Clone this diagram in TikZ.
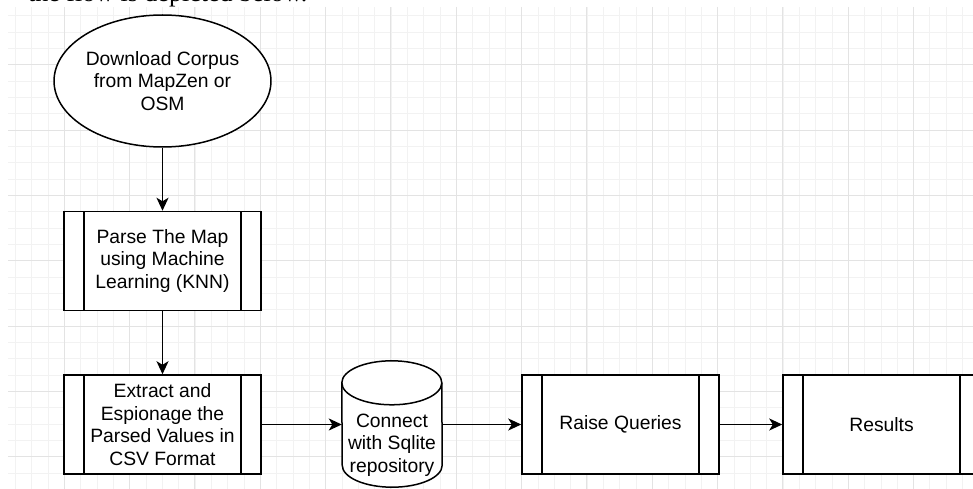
\documentclass[tikz,border=0pt]{standalone}
\usepackage{fontspec}
\setmainfont{Liberation Sans}
\newfontfamily\docfont{Liberation Serif}
\usetikzlibrary{shapes.geometric,arrows.meta,positioning}
\newcommand{\flowfont}{\fontsize{19.3}{22.7}\selectfont}

\tikzset{
  gridminor/.style={line width=0.8pt, black!5},
  gridmajor/.style={line width=1pt, black!11},
  flowline/.style={line width=1.5pt, -{Stealth[length=13pt,width=12pt,inset=3.5pt]}},
  startnode/.style={ellipse, draw, fill=white, line width=1.5pt, minimum width=198pt, minimum height=132pt, inner sep=0pt, align=center, font=\flowfont},
  procbox/.style={draw, fill=white, line width=1.5pt, minimum width=197pt, minimum height=99pt, inner sep=0pt, align=center, font=\flowfont,
    path picture={\draw[line width=1.5pt]
      ([xshift=20pt]path picture bounding box.north west) -- ([xshift=20pt]path picture bounding box.south west)
      ([xshift=-20pt]path picture bounding box.north east) -- ([xshift=-20pt]path picture bounding box.south east);}},
  dbnode/.style={rectangle, minimum width=100pt, minimum height=126pt, inner sep=0pt},
  dbline/.style={draw, line width=1.5pt},
}

\begin{document}
\begin{tikzpicture}[x=1pt,y=-1pt]
    \useasboundingbox (0,0) rectangle (973,489);
    \clip (0,0) rectangle (973,489);
    % grid of the drawing page
    \begin{scope}
        \clip (8,7) rectangle (973,489);
        \foreach \i in {0,...,58} \draw[gridminor] ({15.4+16.33*\i},7) -- ({15.4+16.33*\i},489);
        \foreach \i in {0,...,29} \draw[gridminor] (8,{15.8+16.33*\i}) -- (973,{15.8+16.33*\i});
        \foreach \i in {0,...,14} \draw[gridmajor] ({64.3+65.33*\i},7) -- ({64.3+65.33*\i},489);
        \foreach \i in {0,...,6} \draw[gridmajor] (8,{64.7+65.33*\i}) -- (973,{64.7+65.33*\i});
    \end{scope}
    % line of the page above, cut off
    \node[anchor=base west, inner sep=0pt, font=\docfont\fontsize{26}{30}\selectfont] (caption) at (28,1.5) {the flow is depicted below.};

    \node[startnode] (corpus) at (162.5,81) {Download Corpus\\from MapZen or\\OSM};
    \node[procbox] (parse) at (162.5,261) {Parse The Map\\using Machine\\Learning (KNN)};
    \node[procbox] (extract) at (162.5,424.5) {Extract and\\Espionage the\\Parsed Values in\\CSV Format};
    % database drum
    \node[dbnode] (db) at (392,424) {};
    \path[dbline, fill=white] ([yshift=-22pt]db.north west) arc[start angle=180, end angle=0, x radius=50pt, y radius=22pt]
        -- ([yshift=22pt]db.south east) arc[start angle=0, end angle=-180, x radius=50pt, y radius=22pt] -- cycle;
    \draw[line width=1.5pt] ([yshift=-22pt]db.north west) arc[start angle=180, end angle=360, x radius=50pt, y radius=22pt];
    \node[align=center, inner sep=0pt, font=\flowfont] (dbtext) at (392,445) {Connect\\with Sqlite\\repository};
    \node[procbox] (queries) at (620.5,424.5) {Raise Queries};
    \node[procbox] (results) at (881.5,424.5) {Results};

    \draw[flowline] (corpus) -- (parse);
    \draw[flowline] (parse) -- (extract);
    \draw[flowline] (extract.east) -- (db.west |- extract.east);
    \draw[flowline] (db.east |- queries.west) -- (queries.west);
    \draw[flowline] (queries) -- (results);
\end{tikzpicture}
\end{document}
